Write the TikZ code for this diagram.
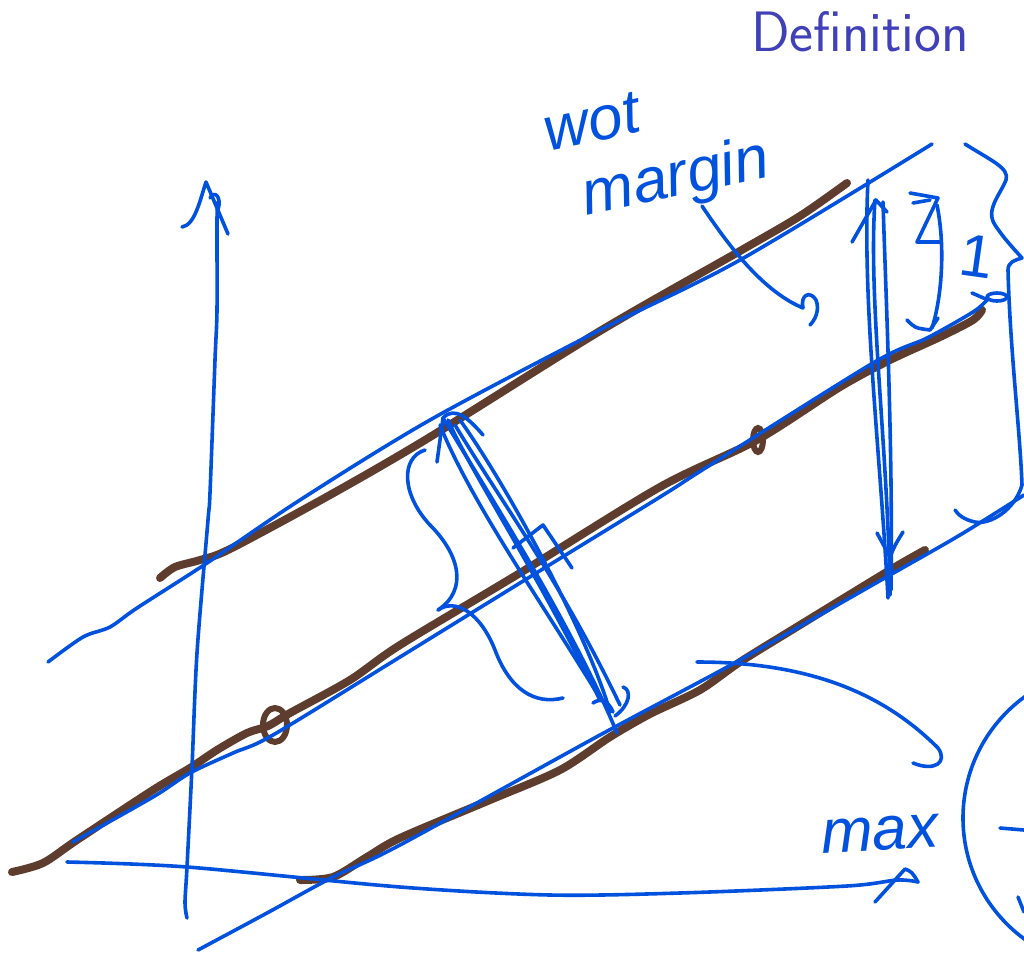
\documentclass[tikz,border=0pt]{standalone}
\usepackage{fontspec}
\newfontfamily\hand{Liberation Sans}
\definecolor{ink}{RGB}{0,82,222}
\definecolor{brn}{RGB}{94,61,46}
\definecolor{struct}{RGB}{64,64,184}
\tikzset{
  bluepen/.style={draw=ink, line width=1.8pt, line cap=round, line join=round},
  brownpen/.style={draw=brn, line width=4pt, line cap=round, line join=round},
  handtext/.style={text=ink, font=\hand\itshape\fontsize{31}{31}\selectfont, inner sep=0pt},
  titletext/.style={text=struct, font=\sffamily\fontsize{28.5}{32}\selectfont, inner sep=0pt},
}
\begin{document}
\begin{tikzpicture}[x=0.5pt,y=-0.5pt]
\useasboundingbox (0,0) rectangle (1024,954);
\clip (0,0) rectangle (1024,954);

% title
\node[titletext] (def) at (860,32) {Definition};

% brown lines
\draw[brownpen] plot[smooth] coordinates {(160,578) (175,567) (200,560) (230,549) (330,495) (430,437) (600,331) (740,251) (800,216) (847,183)};
\draw[brownpen] plot[smooth] coordinates {(12,872) (43,863) (77,840) (153,790) (190,768) (217,750) (247,733) (268,726) (290,713) (350,680) (400,645) (520,573) (660,487) (757,440) (840,387) (890,360) (940,337) (973,320) (982,310)};
\draw[brownpen] plot[smooth] coordinates {(300,880) (333,877) (367,857) (400,838) (490,800) (560,770) (610,737) (650,714) (700,690) (740,662) (800,625) (890,570) (925,550)};
\draw[draw=brn, line width=3pt] (275,725) ellipse [x radius=6pt, y radius=8.5pt];
\draw[draw=brn, line width=3pt] (758,440) ellipse [x radius=2.5pt, y radius=6pt];

% blue lines
\draw[bluepen] plot[smooth] coordinates {(48,662) (83,637) (110,627) (137,608) (207,563) (300,500) (430,420) (600,330) (740,260) (932,144)};
\draw[bluepen] plot[smooth] coordinates {(73,842) (153,797) (190,773) (233,753) (273,735) (400,657) (520,583) (660,497) (707,467) (873,363) (927,338) (973,312) (987,300)};
\draw[bluepen] plot[smooth] coordinates {(198,950) (267,913) (333,877) (400,845) (600,735) (740,660) (890,575) (960,535) (1024,495)};

% axes
\draw[bluepen] plot[smooth] coordinates {(67,862) (187,867) (400,887) (550,895) (680,893) (847,886) (897,880) (918,882)};
\draw[bluepen] (875,902) -- (905,869) .. controls (912,872) .. (918,882);
\draw[bluepen] plot[smooth] coordinates {(187,918) (185,903) (187,867) (192,767) (197,653) (208,520) (210,493) (215,360) (217,310) (217,220) (218,202)};
\draw[bluepen] (182,227) .. controls (195,225) and (200,200) .. (206,182) -- (228,234);
\draw[bluepen] (218,210) .. controls (222,196) and (214,190) .. (210,198);

% right vertical double arrow
\draw[bluepen] (868,180) .. controls (862,300) and (880,450) .. (888,598);
\draw[bluepen] (875,200) .. controls (868,300) and (888,450) .. (890,595);
\draw[bluepen] (883,202) .. controls (886,300) and (893,450) .. (891,590);
\draw[bluepen] (852,242) -- (876,200) -- (887,212);
\draw[bluepen] (877,533) .. controls (884,545) .. (890,557) .. controls (895,545) .. (903,532);

% small double arrow
\draw[bluepen] (910,193) -- (938,198) -- (917,242) -- (940,242);
\draw[bluepen] (913,203) -- (930,200);
\draw[bluepen] (937,205) .. controls (946,250) and (941,300) .. (932,328);
\draw[bluepen] (907,320) .. controls (915,328) .. (930,330) -- (938,318);
\node[handtext, font=\hand\fontsize{30}{30}\selectfont, rotate=-8] (one) at (977,256) {1};
\draw[bluepen] (997,297) ellipse [x radius=5pt, y radius=2pt];
\draw[bluepen] (972,293) -- (988,300);

% right brace
\draw[bluepen] (965,144) .. controls (990,160) and (1010,168) .. (1006,180)
  .. controls (1000,195) and (985,210) .. (995,225)
  .. controls (1005,240) and (1015,250) .. (1022,258)
  .. controls (1015,260) and (1008,262) .. (1008,270)
  .. controls (1010,350) and (1020,430) .. (1022,485)
  .. controls (1015,510) and (990,525) .. (975,522)
  .. controls (965,520) and (958,515) .. (955,510);

% perpendicular double arrow (margin)
\draw[bluepen] (443,418) .. controls (480,480) and (570,620) .. (617,733);
\draw[bluepen] (448,420) .. controls (470,470) and (530,560) .. (600,700);
\draw[bluepen] (455,425) .. controls (500,500) and (560,580) .. (620,705);
\draw[bluepen] (440,425) .. controls (470,500) and (540,600) .. (595,690);
\draw[bluepen] (460,420) .. controls (510,490) and (590,640) .. (610,712);
\draw[bluepen] (437,462) -- (443,418) .. controls (455,405) and (470,420) .. (483,435);
\draw[bluepen] (623,687) .. controls (632,690) and (630,705) .. (615,716);
\draw[bluepen] (593,703) .. controls (600,698) and (608,700) .. (613,712);

% left brace
\draw[bluepen] (425,450) .. controls (400,458) and (402,495) .. (430,525)
  .. controls (460,555) and (468,590) .. (438,610);
\draw[bluepen] (438,610) .. controls (455,598) and (480,612) .. (495,650)
  .. controls (510,690) and (535,705) .. (563,698);

% right angle mark
\draw[bluepen] (513,548) -- (543,525) -- (572,568);

% labels
\node[handtext, rotate=12] (wot) at (592,122) {wot};
\node[handtext, rotate=12] (margin) at (676,180) {margin};
\node[handtext, rotate=3] (max) at (880,834) {max};

% annotation arrows
\draw[bluepen] (702,206) .. controls (725,240) and (760,290) .. (803,308)
  .. controls (800,295) and (810,290) .. (816,300)
  .. controls (820,310) and (815,320) .. (810,325);
\draw[bluepen] (697,662) .. controls (820,662) and (890,700) .. (938,748)
  .. controls (948,762) and (935,772) .. (913,763);

% circle at right
\draw[bluepen] (1113,818) circle [radius=75pt];
\draw[bluepen] (1000,828) -- (1024,830);
\draw[bluepen] (1018,897) -- (1024,912);
\end{tikzpicture}
\end{document}
